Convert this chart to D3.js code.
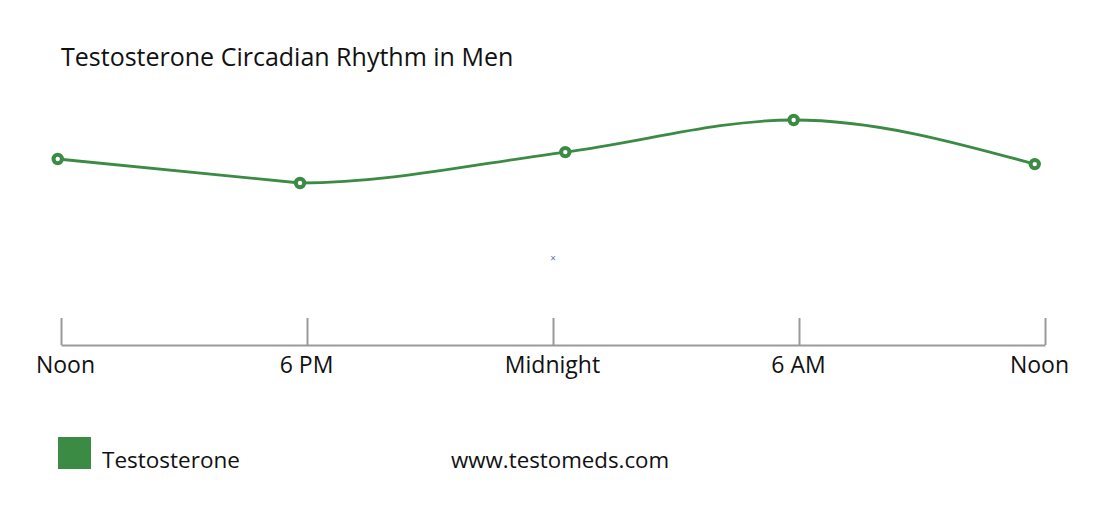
<!DOCTYPE html>
<html>
<head>
<meta charset="utf-8">
<script src="https://cdn.jsdelivr.net/npm/d3@7"></script>
<style>
  html, body { margin: 0; padding: 0; background: #fff; }
  svg { display: block; font-family: "Open Sans", "Noto Sans", sans-serif; }
</style>
</head>
<body>
<svg id="chart" width="1109" height="515"></svg>
<script>
// ---- data ----
const title = "Testosterone Circadian Rhythm in Men";
const tickHours = [0, 6, 12, 18, 24];
const tickLabels = ["Noon", "6 PM", "Midnight", "6 AM", "Noon"];
const seriesName = "Testosterone";
const pointHours = [-0.08, 5.83, 12.3, 17.87, 23.75];
const levels = [62.0, 54.0, 64.3, 75.0, 60.3];
const credit = "www.testomeds.com";

// ---- layout ----
const green = "#3b8b44";
const svg = d3.select("#chart");

const x = d3.scaleLinear().domain([0, 24]).range([61, 1045]);
const y = d3.scaleLinear().domain([0, 100]).range([345, 45]);

// title
svg.append("text")
  .attr("x", 61).attr("y", 66)
  .attr("font-size", 25).attr("fill", "#111")
  .text(title);

// x axis
const axis = d3.axisBottom(x)
  .tickValues(tickHours)
  .tickSize(-27)
  .tickSizeOuter(0)
  .tickFormat((d, i) => tickLabels[i]);

const gx = svg.append("g").attr("transform", `translate(0,${y(0)})`).call(axis);
gx.select(".domain").attr("stroke", "#9a9a9a").attr("stroke-width", 2);
gx.selectAll(".tick line").attr("stroke", "#9a9a9a").attr("stroke-width", 2);
gx.selectAll(".tick text")
  .attr("font-size", 23)
  .attr("font-family", "'Open Sans', 'Noto Sans', sans-serif")
  .attr("fill", "#111")
  .attr("y", 0)
  .attr("dy", 28)
  .attr("dx", (d, i) => i === 0 ? 4 : (i === tickHours.length - 1 ? -6 : -1));

// line: straight first segment, smooth monotone afterwards
const pts = pointHours.map((h, i) => [x(h), y(levels[i])]);
const smooth = d3.line().curve(d3.curveMonotoneX)(pts);
const segs = smooth.split("C");
const pathD = `M${pts[0][0]},${pts[0][1]}L${pts[1][0]},${pts[1][1]}C` + segs.slice(2).join("C");
svg.append("path")
  .attr("d", pathD)
  .attr("fill", "none")
  .attr("stroke", green)
  .attr("stroke-width", 2.8);

svg.selectAll("circle.pt").data(pts).join("circle")
  .attr("class", "pt")
  .attr("cx", d => d[0]).attr("cy", d => d[1])
  .attr("r", 4.2)
  .attr("fill", "#fff")
  .attr("stroke", green)
  .attr("stroke-width", 4);

// small marker artifact
svg.append("text")
  .attr("x", x(12)).attr("y", 262)
  .attr("text-anchor", "middle")
  .attr("font-size", 10).attr("fill", "#5a7a99")
  .text("×");

// legend
svg.append("rect")
  .attr("x", 58).attr("y", 437)
  .attr("width", 33).attr("height", 32)
  .attr("fill", green);
svg.append("text")
  .attr("x", 102).attr("y", 468)
  .attr("font-size", 22.5).attr("fill", "#111")
  .text(seriesName);

svg.append("text")
  .attr("x", 451).attr("y", 468)
  .attr("font-size", 22.3).attr("fill", "#111")
  .text(credit);
</script>
</body>
</html>
